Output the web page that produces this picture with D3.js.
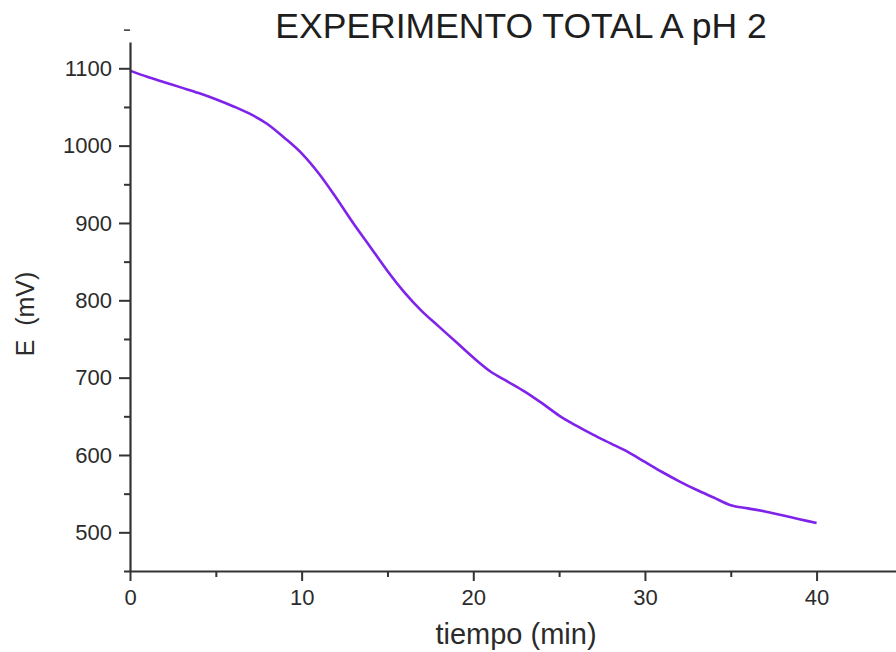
<!DOCTYPE html>
<html>
<head>
<meta charset="utf-8">
<script src="https://cdn.jsdelivr.net/npm/d3@7"></script>
<style>
    body { margin: 0; background: #fff; }
    text { font-family: "Liberation Sans", Arial, sans-serif; fill: #2b2b2b; }
    .axis path, .axis line { stroke: #333; }
</style>
</head>
<body>
<script>
// data: time (min) and potential E (mV)
const tiempo = [0, 1, 2, 3, 4, 5, 6, 7, 8, 9, 10, 11, 12, 13, 14, 15, 16, 17, 18, 19, 20,
    21, 22, 23, 24, 25, 26, 27, 28, 29, 30, 31, 32, 33, 34, 35, 36, 37, 38, 39, 40];
const potencial = [1097, 1089, 1082, 1075, 1068, 1060, 1051, 1041, 1028, 1010, 990,
    964, 933, 900, 869, 838, 810, 786, 766, 746, 726,
    708, 695, 682, 667, 651, 638, 626, 615, 604, 591,
    578, 566, 555, 545, 535, 531, 527, 522, 517, 512];

// tick labels
const xTicks = [0, 10, 20, 30, 40];
const xMinor = [5, 15, 25, 35, 45];
const yTicks = [500, 600, 700, 800, 900, 1000, 1100];
const yMinor = [450, 550, 650, 750, 850, 950, 1050, 1150];

const titulo = "EXPERIMENTO TOTAL A pH 2";
const xLabel = "tiempo (min)";
const yLabel = "E  (mV)";

const W = 896, H = 652;

// set the ranges
const x = d3.scaleLinear().domain([0, 45]).range([130, 902.4]);
const y = d3.scaleLinear().domain([450, 1134]).range([571, 42]);

const svg = d3.select("body").append("svg")
    .attr("width", W)
    .attr("height", H);

// the line
const valueline = d3.line()
    .x(function(d, i) { return x(tiempo[i]); })
    .y(function(d) { return y(d); })
    .curve(d3.curveMonotoneX);

svg.append("path")
    .datum(potencial)
    .attr("fill", "none")
    .attr("stroke", "#7f22ea")
    .attr("stroke-width", 2.6)
    .attr("d", valueline);

// X axis
const xAxis = svg.append("g")
    .attr("class", "axis")
    .attr("transform", "translate(0," + y(450) + ")")
    .call(d3.axisBottom(x).tickValues(xTicks).tickFormat(d3.format("d"))
        .tickSize(10).tickSizeOuter(0).tickPadding(8));
xAxis.select(".domain").attr("stroke-width", 2.2);
xAxis.selectAll(".tick line").attr("stroke-width", 2);
xAxis.selectAll(".tick text").style("font-size", "22px");

svg.append("g")
    .attr("class", "axis")
    .attr("transform", "translate(0," + y(450) + ")")
    .call(d3.axisBottom(x).tickValues(xMinor).tickSize(6).tickFormat(""))
    .call(g => g.select(".domain").remove())
    .selectAll(".tick line").attr("stroke-width", 2);

// Y axis
const yAxis = svg.append("g")
    .attr("class", "axis")
    .attr("transform", "translate(" + x(0) + ",0)")
    .call(d3.axisLeft(y).tickValues(yTicks).tickFormat(d3.format("d"))
        .tickSize(11).tickSizeOuter(0).tickPadding(7));
yAxis.select(".domain").attr("stroke-width", 2.2);
yAxis.selectAll(".tick line").attr("stroke-width", 2);
yAxis.selectAll(".tick text").style("font-size", "22px");

const yMin = svg.append("g")
    .attr("class", "axis")
    .attr("transform", "translate(" + x(0) + ",0)")
    .call(d3.axisLeft(y).tickValues(yMinor).tickSize(6).tickFormat(""));
yMin.select(".domain").remove();
yMin.selectAll(".tick line").attr("stroke-width", 2);
yMin.selectAll(".tick").filter(d => d > 1134).select("line").attr("stroke", "#777").attr("stroke-width", 1.5);

// title and axis labels
svg.append("text")
    .attr("x", 521)
    .attr("y", 38)
    .attr("text-anchor", "middle")
    .style("font-size", "35.5px")
    .style("fill", "#1e1e1e")
    .text(titulo);

svg.append("text")
    .attr("x", 516)
    .attr("y", 644)
    .attr("text-anchor", "middle")
    .style("font-size", "29px")
    .text(xLabel);

svg.append("text")
    .attr("transform", "translate(34,314) rotate(-90)")
    .attr("text-anchor", "middle")
    .style("font-size", "25px")
    .style("white-space", "pre")
    .attr("xml:space", "preserve")
    .text(yLabel);
</script>
</body>
</html>
